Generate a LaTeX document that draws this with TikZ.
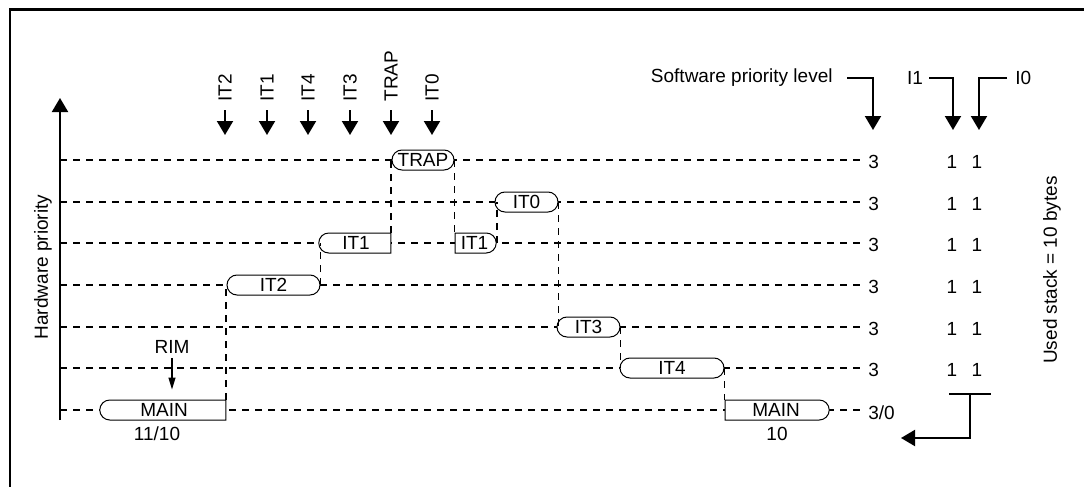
\documentclass[tikz,border=0pt]{standalone}
\usepackage{fontspec}
\setmainfont{Liberation Sans}
\usetikzlibrary{arrows.meta,shapes.misc}
\newcommand\zw[1]{\makebox[0pt]{#1}}
\begin{document}
\begin{tikzpicture}[x=0.5pt,y=-0.5pt,font=\fontsize{9.5}{11}\selectfont,
        task/.style={draw,line width=0.5pt,fill=white,rounded rectangle,minimum height=10pt,inner sep=0pt},
        sqleft/.style={rounded rectangle west arc=none},
        sqright/.style={rounded rectangle east arc=none},
        lvl/.style={dash pattern=on 3.5pt off 3pt,line width=0.9pt},
        lbl/.style={inner sep=0pt},
        arr/.style={line width=1pt,-{Triangle[width=8pt,length=7pt]}},
        thin arr/.style={line width=0.6pt,-{Triangle[width=3.5pt,length=6pt]}}]
    \useasboundingbox (0,0) rectangle (1084,487);
    \draw[line width=1.3pt] (10,487)--(10,9.5)--(1084,9.5);
    % hardware priority axis and levels
    \draw[arr] (60,420)--(60,98);
    \node[lbl,rotate=90] (hw) at (43,267) {Hardware priority};
    \foreach \y in {160,202,243,285,327,368,410}
        \draw[lvl] (60,\y)--(860,\y);
    % interrupt requests
    \foreach \x/\t in {225/IT2,267/IT1,308/IT4,350/IT3,391/TRAP,432/IT0}{
        \node[lbl,rotate=90,anchor=west] (s\t) at (\x,102) {\t};
        \draw[arr] ([yshift=-4pt]s\t.west)--++(0,25);
    }
    % tasks
    \node[task,sqright,minimum width=63pt] (main1) at (164,410) {\zw{MAIN}};
    \node[task,minimum width=46.5pt] (it2) at (273.5,285) {\zw{IT2}};
    \node[task,sqright,minimum width=36pt] (it1a) at (356,243) {\zw{IT1}};
    \node[task,minimum width=31pt] (trap) at (423,160) {\zw{TRAP}};
    \node[task,sqleft,minimum width=20.5pt] (it1b) at (474.5,243) {\zw{IT1}};
    \node[task,minimum width=31.5pt] (it0) at (526.5,202) {\zw{IT0}};
    \node[task,minimum width=31.5pt] (it3) at (588.5,327) {\zw{IT3}};
    \node[task,minimum width=52pt] (it4) at (672,368) {\zw{IT4}};
    \node[task,sqleft,minimum width=52pt] (main2) at (776,410) {\zw{MAIN}};
    \node[lbl] (m1v) at (157,434) {11/10};
    \node[lbl] (m2v) at (777,434) {10};
    % switches between tasks
    \draw[lvl] (main1.north east)--(main1.north east |- it2.west);
    \draw[lvl] (it2.east)--(it2.east |- it1a.west);
    \draw[lvl] (it1a.north east)--(it1a.north east |- trap.west);
    \draw[lvl] (trap.east)--(trap.east |- it1b.north);
    \draw[lvl] (it1b.east)--(it1b.east |- it0.west);
    \draw[lvl] (it0.east)--(it0.east |- it3.west);
    \draw[lvl] (it3.east)--(it3.east |- it4.west);
    \draw[lvl] (it4.east)--(it4.east |- main2.north);
    \node[lbl] (rim) at (172,347) {RIM};
    \draw[thin arr,shorten >=5pt] ([yshift=-2pt]rim.south)--(rim.south |- main1.north);
    % priority bits
    \foreach \y in {160,202,243,285,327,368}{
        \node[lbl,anchor=west] (sw\y) at (868,\y+2) {3};
        \node[lbl] (ia\y) at (952,\y+2) {1};
        \node[lbl] (ib\y) at (977,\y+2) {1};
    }
    \node[lbl,anchor=west] (sw410) at (868,413) {3/0};
    \node[lbl,anchor=east] (swl) at (833,78) {Software priority level};
    \node[lbl] (i1) at (915,78) {I1};
    \node[lbl,anchor=west] (i0) at (1015,78) {I0};
    \coordinate (tsw) at (873,130);
    \coordinate (ti1) at (953,130);
    \coordinate (ti0) at (979,130);
    \draw[arr] ([xshift=7pt]swl.east) -| (tsw);
    \draw[arr] ([xshift=3pt]i1.east) -| (ti1);
    \draw[arr] ([xshift=-4pt]i0.west) -| (ti0);
    \coordinate (bl) at (949,394);
    \coordinate (br) at (991,394);
    \coordinate (bm) at (970,394);
    \coordinate (bt) at (901,438);
    \draw[line width=1pt] (bl)--(br);
    \draw[arr] (bm) |- (bt);
    \node[lbl,rotate=90] (stk) at (1052,270) {Used stack = 10 bytes};
\end{tikzpicture}
\end{document}
